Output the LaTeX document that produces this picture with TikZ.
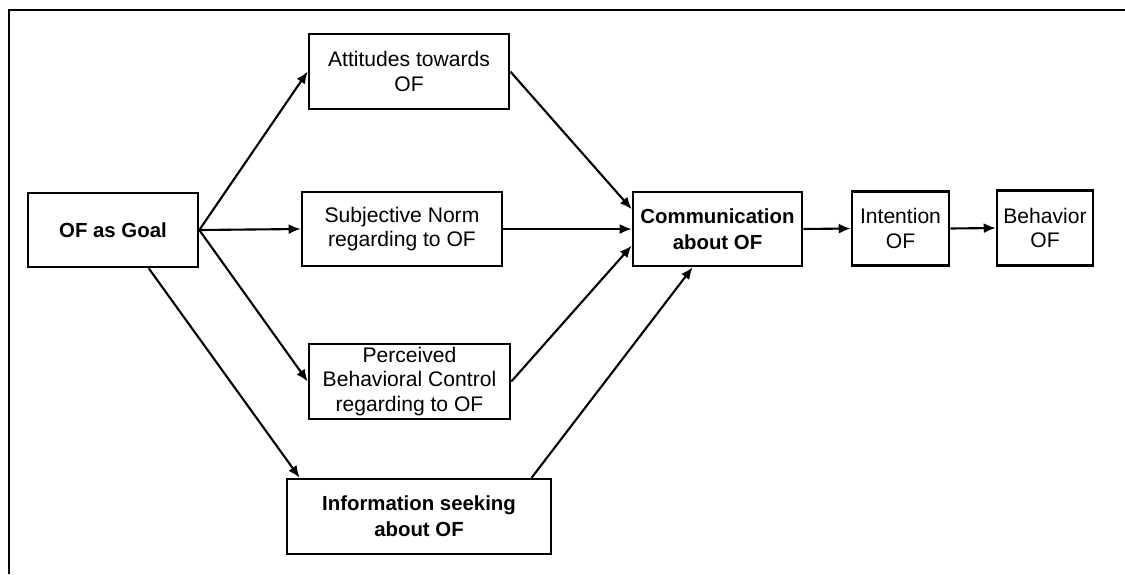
\documentclass[tikz,border=0pt]{standalone}
\usepackage{fontspec}
\setmainfont{Liberation Sans}
\usepackage{tikz}
\usetikzlibrary{arrows.meta, calc}
\tikzset{
    blk/.style  ={draw=black, line width=1.8pt, fill=white, align=center,
                  inner sep=2pt, font=\fontsize{15}{17.5}\selectfont},
    hdblk/.style={blk, font=\fontsize{14.5}{18.5}\selectfont\bfseries},
    ar/.style   ={-{Latex[length=3mm, width=2.5mm]}, line width=1.5pt}
}

\begin{document}
\begin{tikzpicture}[x=0.025cm, y=-0.025cm]
  \useasboundingbox (0,0) rectangle (1125,574);

  % ---- frame (open to the right and below)
  \draw[line width=1.8pt] (9,574) -- (9,10) -- (1125,10);

  % ---- source
  \node[hdblk, minimum width=4.25cm, minimum height=1.85cm] (goal) at (113,230)
       {OF as Goal};

  % ---- theory of planned behaviour constructs
  \node[blk, minimum width=5cm, minimum height=1.875cm] (att) at (409,71.5)
       {Attitudes towards\\OF};
  \node[blk, minimum width=5cm, minimum height=1.85cm] (norm) at (402,229)
       {Subjective Norm\\regarding to OF};
  \node[blk, minimum width=5.025cm, minimum height=1.875cm] (pbc) at (409.5,381.5)
       {Perceived\\Behavioral Control\\regarding to OF};
  \node[hdblk, minimum width=6.6cm, minimum height=1.875cm] (info) at (419,516.5)
       {Information seeking\\about OF};

  % ---- outcome chain
  \node[hdblk, minimum width=4.225cm, minimum height=1.85cm] (comm) at (717.5,229)
       {Communication\\about OF};
  \node[blk, minimum width=2.425cm, minimum height=1.85cm] (intent) at (900.5,228.5)
       {Intention\\OF};
  \node[blk, minimum width=2.4cm, minimum height=1.875cm] (behav) at (1045,228)
       {Behavior\\OF};

  % ---- arrows out of the goal
  \draw[ar] (goal.east) -- (att.west);
  \draw[ar] (goal.east) -- (norm.west);
  \draw[ar] (goal.east) -- (pbc.west);
  \draw[ar] (goal.-47) -- (info.162);

  % ---- arrows into communication
  \draw[ar] (att.east) -- (comm.167);
  \draw[ar] (norm.east) -- (comm.west);
  \draw[ar] (pbc.east) -- (comm.191);
  \draw[ar] (info.19) -- (comm.237);

  \draw[ar] (comm.east) -- (intent.west);
  \draw[ar] (intent.east) -- (behav.west);
\end{tikzpicture}
\end{document}
